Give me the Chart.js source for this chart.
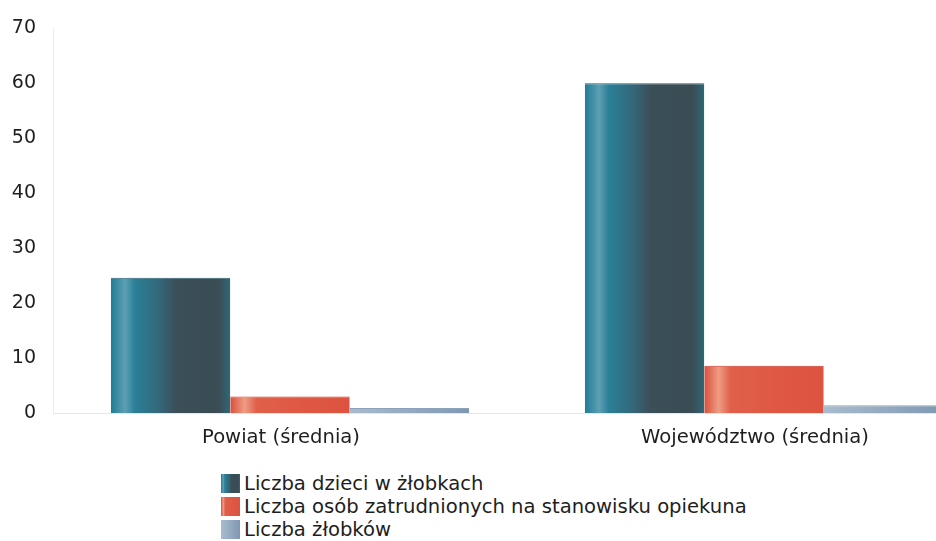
<!DOCTYPE html>
<html>
<head>
<meta charset="utf-8">
<script src="https://cdn.jsdelivr.net/npm/chart.js@4.4.1/dist/chart.umd.min.js"></script>
<style>
  html, body { margin: 0; padding: 0; background: #fff; overflow: hidden; width: 936px; height: 541px; }
  #wrap { position: absolute; left: 0; top: 0; width: 1004px; height: 455px; }
  #legend { position: absolute; left: 221px; top: 472px; font-family: "DejaVu Sans", sans-serif; font-size: 19.6px; color: #1e1e1e; }
  #legend .item { display: flex; align-items: center; height: 23px; white-space: nowrap; }
  #legend .box { width: 19px; height: 19px; margin-right: 4px; flex: none; }
</style>
</head>
<body>
<div id="wrap"><canvas id="c" width="1004" height="455"></canvas></div>
<div id="legend"></div>
<script>
const categories = ["Powiat (średnia)", "Województwo (średnia)"];
const seriesNames = ["Liczba dzieci w żłobkach", "Liczba osób zatrudnionych na stanowisku opiekuna", "Liczba żłobków"];
const dzieci = [24.6, 60.0];
const opiekunowie = [3.0, 8.6];
const zlobki = [0.9, 1.4];
const yTicks = [0, 10, 20, 30, 40, 50, 60, 70];

const CAT_PCT = 0.756;
const stops = [
  [[0, '#1f7d95'], [0.12, '#5d9fb3'], [0.2, '#2a8098'], [0.4, '#33687a'], [0.55, '#3b4f58'], [0.9, '#3a4c54'], [1, '#2f6878']],
  [[0, '#d9503c'], [0.12, '#ee9c84'], [0.22, '#e0604a'], [0.6, '#df5844'], [1, '#dc5440']],
  [[0, '#a8bccd'], [0.5, '#94aac0'], [1, '#7f98b2']]
];
const flat = ['#2f6676', '#e05a45', '#93aac0'];
const borders = ['#2c5f70', '#cc3a2c', '#8aa2bb'];

function barFill(ctx) {
  const chart = ctx.chart;
  const x = chart.scales.x;
  if (!x || ctx.type !== 'data' || !chart.chartArea) return flat[ctx.datasetIndex];
  const n = categories.length;
  const catW = (x.right - x.left) / n * CAT_PCT;
  const bw = catW / 3;
  const center = x.getPixelForValue(ctx.dataIndex);
  const left = center - catW / 2 + ctx.datasetIndex * bw;
  const g = chart.ctx.createLinearGradient(left, 0, left + bw, 0);
  stops[ctx.datasetIndex].forEach(s => g.addColorStop(s[0], s[1]));
  return g;
}

const chart = new Chart(document.getElementById('c'), {
  type: 'bar',
  data: {
    labels: categories,
    datasets: [
      { label: seriesNames[0], data: dzieci },
      { label: seriesNames[1], data: opiekunowie },
      { label: seriesNames[2], data: zlobki }
    ].map((d, i) => Object.assign(d, {
      backgroundColor: barFill,
      borderColor: borders[i],
      borderWidth: { top: 1, left: 0, right: 0, bottom: 0 },
      categoryPercentage: CAT_PCT,
      barPercentage: 1.0
    }))
  },
  options: {
    responsive: false,
    animation: false,
    layout: { padding: { left: 0, top: 24, right: 3, bottom: 0 } },
    plugins: { legend: { display: false }, tooltip: { enabled: false } },
    scales: {
      x: {
        afterFit: axis => { axis.height = 42; },
        grid: { display: false, drawTicks: false },
        border: { display: true, color: '#e6e6e6', dash: [3, 3] },
        ticks: { color: '#1e1e1e', font: { family: 'DejaVu Sans', size: 19.6 }, padding: 13, maxRotation: 0, labelOffset: -9 }
      },
      y: {
        min: 0, max: 70,
        afterFit: axis => { axis.width = 53; },
        afterBuildTicks: axis => { axis.ticks = yTicks.map(v => ({ value: v })); },
        grid: { display: false, drawTicks: false },
        border: { display: true, color: '#ececec', dash: [2, 3] },
        ticks: { color: '#1e1e1e', font: { family: 'DejaVu Sans', size: 19 }, padding: 17 }
      }
    }
  }
});

const legend = document.getElementById('legend');
seriesNames.forEach((name, i) => {
  const item = document.createElement('div');
  item.className = 'item';
  const box = document.createElement('span');
  box.className = 'box';
  box.style.background = 'linear-gradient(to right,' + stops[i].map(s => s[1] + ' ' + (s[0] * 100) + '%').join(',') + ')';
  const txt = document.createElement('span');
  txt.textContent = name;
  item.appendChild(box);
  item.appendChild(txt);
  legend.appendChild(item);
});
</script>
</body>
</html>
